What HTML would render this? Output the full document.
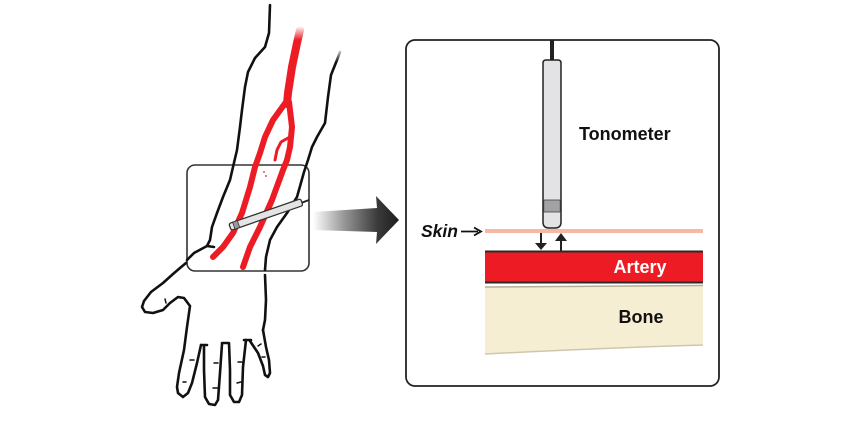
<!DOCTYPE html>
<html><head><meta charset="utf-8"><style>
html,body{margin:0;padding:0;background:#fff;}
svg{display:block;}
text{font-family:"Liberation Sans",Arial,sans-serif;font-weight:bold;}
</style></head><body>
<svg width="855" height="426" viewBox="0 0 855 426" xmlns="http://www.w3.org/2000/svg">
<defs>
<linearGradient id="ag" x1="313" y1="0" x2="399" y2="0" gradientUnits="userSpaceOnUse">
<stop offset="0" stop-color="#ffffff"/>
<stop offset="0.35" stop-color="#9a9a9a"/>
<stop offset="0.75" stop-color="#3a3a3a"/>
<stop offset="1" stop-color="#1e1e1e"/>
</linearGradient>
<linearGradient id="fade" x1="0" y1="26" x2="0" y2="40" gradientUnits="userSpaceOnUse">
<stop offset="0" stop-color="#fff" stop-opacity="1"/>
<stop offset="1" stop-color="#fff" stop-opacity="0"/>
</linearGradient>
<linearGradient id="fade2" x1="0" y1="48" x2="0" y2="62" gradientUnits="userSpaceOnUse">
<stop offset="0" stop-color="#fff" stop-opacity="1"/>
<stop offset="1" stop-color="#fff" stop-opacity="0"/>
</linearGradient>
</defs>

<!-- left box -->
<rect x="187" y="165" width="122" height="106" rx="8" fill="#fff" stroke="#333" stroke-width="1.6"/>

<!-- arm outlines -->
<g fill="none" stroke="#111" stroke-width="2.6" stroke-linecap="round" stroke-linejoin="round">
<path d="M270,5 L269,33 L265,47 L255,58 L248,72 L245,87 L242,110 L240,127 L237,150 L233,167 L230,180 L223,197 L217,213 L212,227 L210,240 L207,246 L194,253 L187,260"/>
<path d="M207,246 L214,247"/>
<path d="M340,52 L337,60 L331,75 L328,97 L325,123 L317,137 L312,147 L308,160 L304,172 L297,197 L287,213 L277,227 L270,240 L266,257 L265,270"/>
<path d="M265,275 L266,300 L265,320 L263,330"/>
<!-- hand -->
<path d="M186,263 L180,268 L173,274 L163,283 L151,292 L144,301 L142,307 L145,312 L153,313 L163,310 L170,303 L178,297 L184,298 L190,306 L187,327 L184,350 L179,373 L177,387 L178,393 L183,397 L188,393 L192,383 L197,363 L201,345"/>
<path d="M201,345 L207,345"/>
<path d="M204,346 L204,370 L205,397 L209,404 L215,405 L218,400 L220,373 L222,344"/>
<path d="M222,343 L228,343"/>
<path d="M229,343 L230,370 L230,395 L234,402 L239,402 L242,395 L243,367 L246,340"/>
<path d="M244,340 L251,340"/>
<path d="M250,341 L252,344 L258,353 L263,366 L265,375 L268,377 L270,373 L269,360 L266,347 L263,330"/>
</g>
<g stroke="#111" stroke-width="1.5" stroke-linecap="round">
<line x1="190" y1="360" x2="194" y2="360"/>
<line x1="183" y1="382" x2="186" y2="382"/>
<line x1="214" y1="363" x2="218" y2="363"/>
<line x1="213" y1="388" x2="218" y2="388"/>
<line x1="238" y1="362" x2="242" y2="362"/>
<line x1="237" y1="383" x2="241" y2="382"/>
<line x1="258" y1="346" x2="261" y2="344"/>
<line x1="262" y1="357" x2="265" y2="357"/>
<line x1="165" y1="299" x2="166" y2="303"/>
</g>

<!-- arteries -->
<g fill="none" stroke="#ed1c24" stroke-linecap="round" stroke-linejoin="round">
<path d="M300,30 L297,43 L292,67 L288,93 L287,104" stroke-width="8"/>
<path d="M286,102 L273,120 L265,137 L260,153 L255,167 L250,187 L242,213 L233,233 L223,247 L213,257" stroke-width="6"/>
<path d="M289,102 L292,127 L290,147 L287,160 L283,170 L272,200 L260,227 L250,247 L243,267" stroke-width="6"/>
<path d="M288,138 L281,142 L277,150 L275,160" stroke-width="3"/>
</g>
<rect x="290" y="24" width="16" height="16" fill="url(#fade)"/>
<rect x="330" y="46" width="14" height="16" fill="url(#fade2)"/>
<circle cx="264" cy="172" r="0.9" fill="#ed1c24"/>
<circle cx="266" cy="176" r="0.9" fill="#ed1c24"/>

<!-- small pen in left box -->
<line x1="301" y1="203" x2="309" y2="200" stroke="#222" stroke-width="2"/>
<g transform="translate(230,227) rotate(-19.1)">
<rect x="0" y="-3.6" width="76" height="7.2" rx="2" fill="#e4e4e4" stroke="#333" stroke-width="1.3"/>
<rect x="4" y="-3.6" width="5" height="7.2" fill="#9a9a9a" stroke="#333" stroke-width="0.8"/>
</g>

<!-- big gradient arrow -->
<path d="M313,212 L377,208 L376,196 L399,220 L376,244 L377,232 L313,230 Z" fill="url(#ag)"/>

<!-- right box -->
<rect x="406" y="40" width="313" height="346" rx="9" fill="#fff" stroke="#222" stroke-width="1.8"/>

<!-- tonometer -->
<line x1="552" y1="40" x2="552" y2="61" stroke="#222" stroke-width="4"/>
<path d="M546,60 L558,60 Q561,60 561,63 L561,222 Q561,228 555,228 L549,228 Q543,228 543,222 L543,63 Q543,60 546,60 Z" fill="#e3e3e5" stroke="#222" stroke-width="1.5"/>
<rect x="543.8" y="200" width="16.4" height="12" fill="#a2a2a2" stroke="#444" stroke-width="0.8"/>

<!-- skin -->
<rect x="485" y="229" width="218" height="4" fill="#f5b8a2"/>

<!-- arrows -->
<line x1="541" y1="233" x2="541" y2="244" stroke="#222" stroke-width="2"/>
<polygon points="535,243 547,243 541,250" fill="#222"/>
<line x1="561" y1="251" x2="561" y2="240" stroke="#222" stroke-width="2"/>
<polygon points="555,241 567,241 561,233" fill="#222"/>

<!-- artery -->
<rect x="485" y="251" width="218" height="32" fill="#ed1c24"/>
<rect x="485" y="250.5" width="218" height="2" fill="#2a2a2a"/>
<rect x="485" y="281.5" width="218" height="2" fill="#2a2a2a"/>

<!-- bone -->
<path d="M485,287 L703,285.5 L703,345 Q600,348 485,354 Z" fill="#f6eed2"/>
<path d="M485,287 L703,285.5" stroke="#b5ad9a" stroke-width="1.5" fill="none"/>
<path d="M703,345 Q600,348 485,354" stroke="#cfc6ae" stroke-width="1.5" fill="none"/>

<!-- labels -->
<text x="579" y="140" font-size="18" fill="#111">Tonometer</text>
<text x="640" y="273" font-size="18" fill="#fff" text-anchor="middle">Artery</text>
<text x="641" y="323" font-size="18" fill="#111" text-anchor="middle">Bone</text>
<text x="421" y="237" font-size="17.5" fill="#111" font-style="italic">Skin</text>
<line x1="461" y1="231.5" x2="478" y2="231.5" stroke="#111" stroke-width="1.8"/>
<polyline points="474,227.5 481,231.5 474,235.5" fill="none" stroke="#111" stroke-width="1.8"/>
</svg>
</body></html>
